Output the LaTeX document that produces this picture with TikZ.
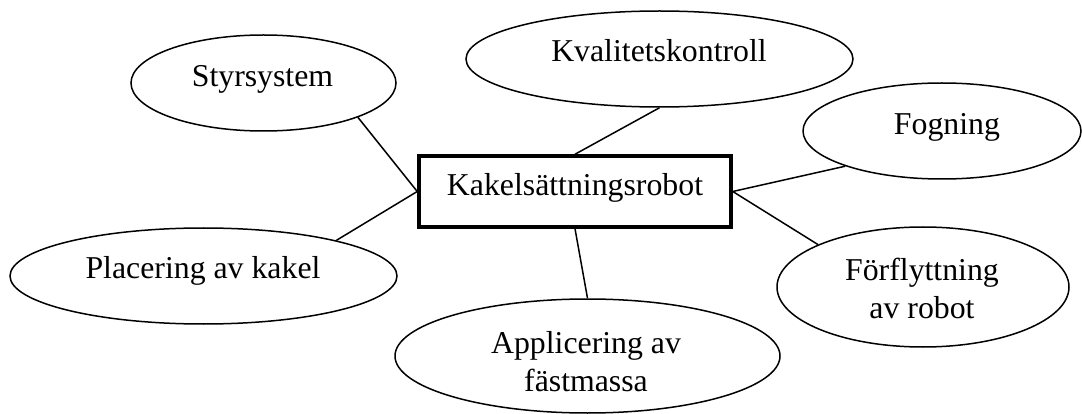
\documentclass[tikz,border=0pt]{standalone}
\usepackage{fontspec}
\setmainfont{Liberation Serif}
\usetikzlibrary{shapes.geometric}
\begin{document}
\begin{tikzpicture}[x=1pt,y=-1pt,
  oval/.style={draw, ellipse, line width=1.5pt, inner sep=0pt},
  hub/.style={draw, rectangle, line width=3.5pt, inner sep=0pt, minimum width=312pt, minimum height=71pt},
  lbl/.style={anchor=base, inner sep=0pt, font=\fontsize{31.8}{37.5}\selectfont},
  link/.style={line width=1.5pt}]
\useasboundingbox (0,0) rectangle (1082,414);
% shapes
\node[hub] (box) at (575,191.5) {};
\node[oval, minimum width=265pt, minimum height=96pt] (sty) at (263.5,83) {};
\node[oval, minimum width=387pt, minimum height=96pt] (kva) at (659.5,59) {};
\node[oval, minimum width=278pt, minimum height=96pt] (fog) at (942,131) {};
\node[oval, minimum width=292pt, minimum height=120pt] (for) at (923,287) {};
\node[oval, minimum width=385pt, minimum height=114pt] (app) at (587.5,356) {};
\node[oval, minimum width=387pt, minimum height=96pt] (pla) at (203.5,276) {};
% texts
\node[lbl] (tbox) at (575,196) {Kakelsättningsrobot};
\node[lbl] (tsty) at (262.5,87) {Styrsystem};
\node[lbl] (tkva) at (659,62) {Kvalitetskontroll};
\node[lbl] (tfog) at (947,135) {Fogning};
\node[lbl] (tfor1) at (922,280) {Förflyttning};
\node[lbl] (tfor2) at (922,318) {av robot};
\node[lbl] (tapp1) at (586,353) {Applicering av};
\node[lbl] (tapp2) at (586,391) {fästmassa};
\node[lbl] (tpla) at (203,279) {Placering av kakel};
% connectors
\draw[link] (sty.-20) -- (box.west);
\draw[link] (pla.15) -- (box.west);
\draw[link] (kva.south) -- (box.north);
\draw[link] (app.north) -- (box.south);
\draw[link] (fog.200) -- (box.east);
\draw[link] (for.158) -- (box.east);
\end{tikzpicture}
\end{document}
